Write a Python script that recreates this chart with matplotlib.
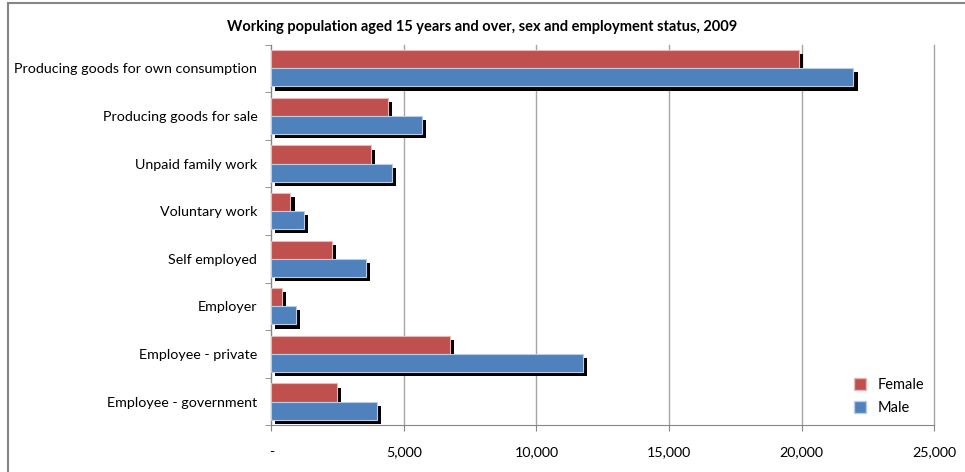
import numpy as np
import matplotlib.pyplot as plt
import matplotlib.patheffects as pe
from matplotlib.lines import Line2D

plt.rcParams['font.family'] = ['Lato', 'DejaVu Sans']

# data (persons)
categories = ["Producing goods for own consumption", "Producing goods for sale",
              "Unpaid family work", "Voluntary work", "Self employed",
              "Employer", "Employee - private", "Employee - government"]
female = [19900, 4410, 3760, 720, 2290, 400, 6740, 2490]
male = [21950, 5670, 4560, 1220, 3570, 930, 11750, 3970]
xticks = [0, 5000, 10000, 15000, 20000, 25000]
xticklabels = ["-", "5,000", "10,000", "15,000", "20,000", "25,000"]

red = "#C0504D"
blue = "#4F81BD"

fig = plt.figure(figsize=(9.65, 4.72), dpi=100)
ax = fig.add_axes([0.2811, 0.0989, 0.6871, 0.8068])

y = np.arange(len(categories))
h = 0.38
shadow = [pe.SimplePatchShadow(offset=(3, -3), shadow_rgbFace='black', alpha=1.0), pe.Normal()]
ax.barh(y - 0.19, female, height=h, color=red, edgecolor="#E6B9B8", linewidth=0.8,
        label="Female", path_effects=shadow, zorder=3)
ax.barh(y + 0.19, male, height=h, color=blue, edgecolor="#B9CDE5", linewidth=0.8,
        label="Male", path_effects=shadow, zorder=3)

ax.set_xlim(0, 25000)
ax.set_ylim(len(categories) - 0.5, -0.5)
ax.set_xticks(xticks)
ax.set_xticklabels(xticklabels, fontsize=10.3)
ax.set_yticks(y)
ax.set_yticklabels(categories, fontsize=10.3)
ax.set_yticks(np.arange(len(categories) + 1) - 0.5, minor=True)
ax.tick_params(axis='y', which='major', length=0, pad=10)
ax.tick_params(axis='y', which='minor', length=4, color="#868686", direction='out')
ax.tick_params(axis='x', length=4, color="#868686", pad=11)
for gl in ax.get_xticks():
    ax.axvline(gl, color="#A6A6A6", linewidth=1, zorder=0, clip_on=False)
ax.set_axisbelow(True)
for s in ['top', 'right']:
    ax.spines[s].set_visible(False)
for s in ['left', 'bottom']:
    ax.spines[s].set_color("#868686")

handles = [Line2D([], [], marker='s', linestyle='', markersize=8, color=red, markeredgecolor="#E6B9B8"),
           Line2D([], [], marker='s', linestyle='', markersize=8, color=blue, markeredgecolor="#B9CDE5")]
ax.legend(handles, ["Female", "Male"], loc='lower right', bbox_to_anchor=(1.0, 0.0),
          frameon=False, fontsize=10.5, handletextpad=0.2, labelspacing=0.6, borderpad=0.2)

fig.text(0.5, 0.943, "Working population aged 15 years and over, sex and employment status, 2009",
         ha='center', va='center', fontsize=10.5, fontweight='bold')

# outer chart border (top and left visible)
fig.add_artist(Line2D([0.0085, 1.0], [0.9935, 0.9935], color="#868686", linewidth=1.5))
fig.add_artist(Line2D([0.0085, 0.0085], [0.0, 0.9935], color="#868686", linewidth=1.5))

fig.savefig("out.png", dpi=100)
